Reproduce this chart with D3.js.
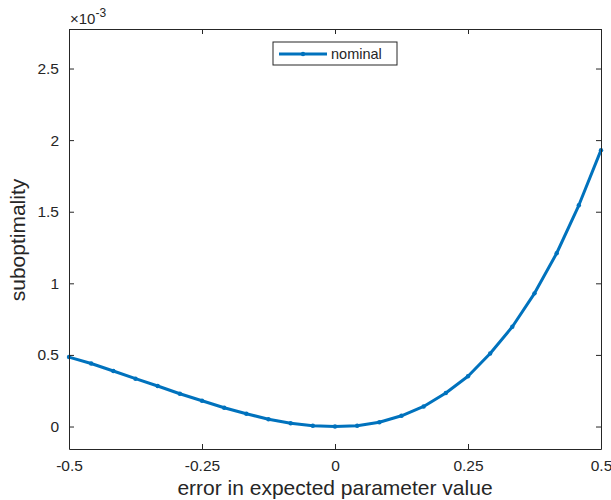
<!DOCTYPE html>
<html>
<head>
<meta charset="utf-8">
<script src="https://cdn.jsdelivr.net/npm/d3@7"></script>
<style>
  body { margin: 0; background: #fff; }
  text { font-family: "Liberation Sans", Arial, Helvetica, sans-serif; fill: #262626; }
</style>
</head>
<body>
<svg id="chart"></svg>
<script>
// Data (y in units of 1e-3)
const errors = d3.range(25).map(i => -0.5 + i / 24);
const subopt = [0.485, 0.44, 0.388, 0.334, 0.283, 0.229, 0.18, 0.131, 0.089, 0.051, 0.023, 0.005, 0,
                0.005, 0.03, 0.075, 0.14, 0.234, 0.351, 0.51, 0.697, 0.93, 1.21, 1.545, 1.93];
const xTicks = [-0.5, -0.25, 0, 0.25, 0.5];
const xTickLabels = ['-0.5', '-0.25', '0', '0.25', '0.5'];
const yTicks = [0, 0.5, 1, 1.5, 2, 2.5];
const yTickLabels = ['0', '0.5', '1', '1.5', '2', '2.5'];

// Size
const width = 611;
const height = 500;
const margin = { top: 29, right: 10, bottom: 51, left: 69 };
const innerW = width - margin.left - margin.right;
const innerH = height - margin.top - margin.bottom;
const axisColor = '#262626';
const lineColor = '#0072BD';

const svg = d3.select('#chart')
  .attr('width', width)
  .attr('height', height);

const g = svg.append('g')
  .attr('transform', `translate(${margin.left},${margin.top})`);

// Scales
const x = d3.scaleLinear().domain([-0.5, 0.5]).range([0, innerW]);
const y = d3.scaleLinear().domain([-0.157, 2.776]).range([innerH, 0]);

// Curve
const line = d3.line()
  .x((d, i) => x(errors[i]))
  .y(d => y(d));

g.append('path')
  .datum(subopt)
  .attr('d', line)
  .attr('fill', 'none')
  .attr('stroke', lineColor)
  .attr('stroke-width', 3)
  .attr('stroke-linejoin', 'round');

g.selectAll('.pt')
  .data(subopt)
  .enter()
  .append('circle')
  .attr('class', 'pt')
  .attr('cx', (d, i) => x(errors[i]))
  .attr('cy', d => y(d))
  .attr('r', 2.2)
  .attr('fill', lineColor);

// Axes (ticks inward, mirrored on top and right)
const tickLen = 5;
const fmtX = d => xTickLabels[xTicks.indexOf(d)];
const fmtY = d => yTickLabels[yTicks.indexOf(d)];

const axBottom = g.append('g')
  .attr('transform', `translate(0,${innerH})`)
  .call(d3.axisBottom(x).tickValues(xTicks).tickFormat(fmtX).tickSizeInner(-tickLen).tickSizeOuter(0).tickPadding(11));
const axTop = g.append('g')
  .call(d3.axisTop(x).tickValues(xTicks).tickFormat('').tickSizeInner(-tickLen).tickSizeOuter(0));
const axLeft = g.append('g')
  .call(d3.axisLeft(y).tickValues(yTicks).tickFormat(fmtY).tickSizeInner(-tickLen).tickSizeOuter(0).tickPadding(10));
const axRight = g.append('g')
  .attr('transform', `translate(${innerW},0)`)
  .call(d3.axisRight(y).tickValues(yTicks).tickFormat('').tickSizeInner(-tickLen).tickSizeOuter(0));

[axBottom, axTop, axLeft, axRight].forEach(a => {
  a.selectAll('path, line').attr('stroke', axisColor);
  a.selectAll('text')
    .style('font-size', '15.5px')
    .attr('fill', axisColor);
});

// Exponent label
const expo = svg.append('text')
  .attr('x', margin.left + 1)
  .attr('y', 24)
  .style('font-size', '15px');
expo.append('tspan').style('font-weight', '300').text('\u00d7');
expo.append('tspan').text('10');
expo.append('tspan').attr('dy', -7).style('font-size', '12px').text('-3');

// Axis titles
svg.append('text')
  .attr('x', margin.left + innerW / 2)
  .attr('y', 495)
  .attr('text-anchor', 'middle')
  .style('font-size', '21px')
  .text('error in expected parameter value');

svg.append('text')
  .attr('transform', `translate(25,240) rotate(-90)`)
  .attr('text-anchor', 'middle')
  .style('font-size', '21px')
  .text('suboptimality');

// Legend
const legend = svg.append('g').attr('transform', 'translate(273,42)');
legend.append('rect')
  .attr('width', 124)
  .attr('height', 23)
  .attr('fill', '#fff')
  .attr('stroke', axisColor)
  .attr('stroke-width', 1);
legend.append('line')
  .attr('x1', 6).attr('x2', 54)
  .attr('y1', 12).attr('y2', 12)
  .attr('stroke', lineColor)
  .attr('stroke-width', 3);
legend.append('circle')
  .attr('cx', 30).attr('cy', 12).attr('r', 2.2)
  .attr('fill', lineColor);
legend.append('text')
  .attr('x', 58)
  .attr('y', 17)
  .style('font-size', '14.5px')
  .text('nominal');
</script>
</body>
</html>
